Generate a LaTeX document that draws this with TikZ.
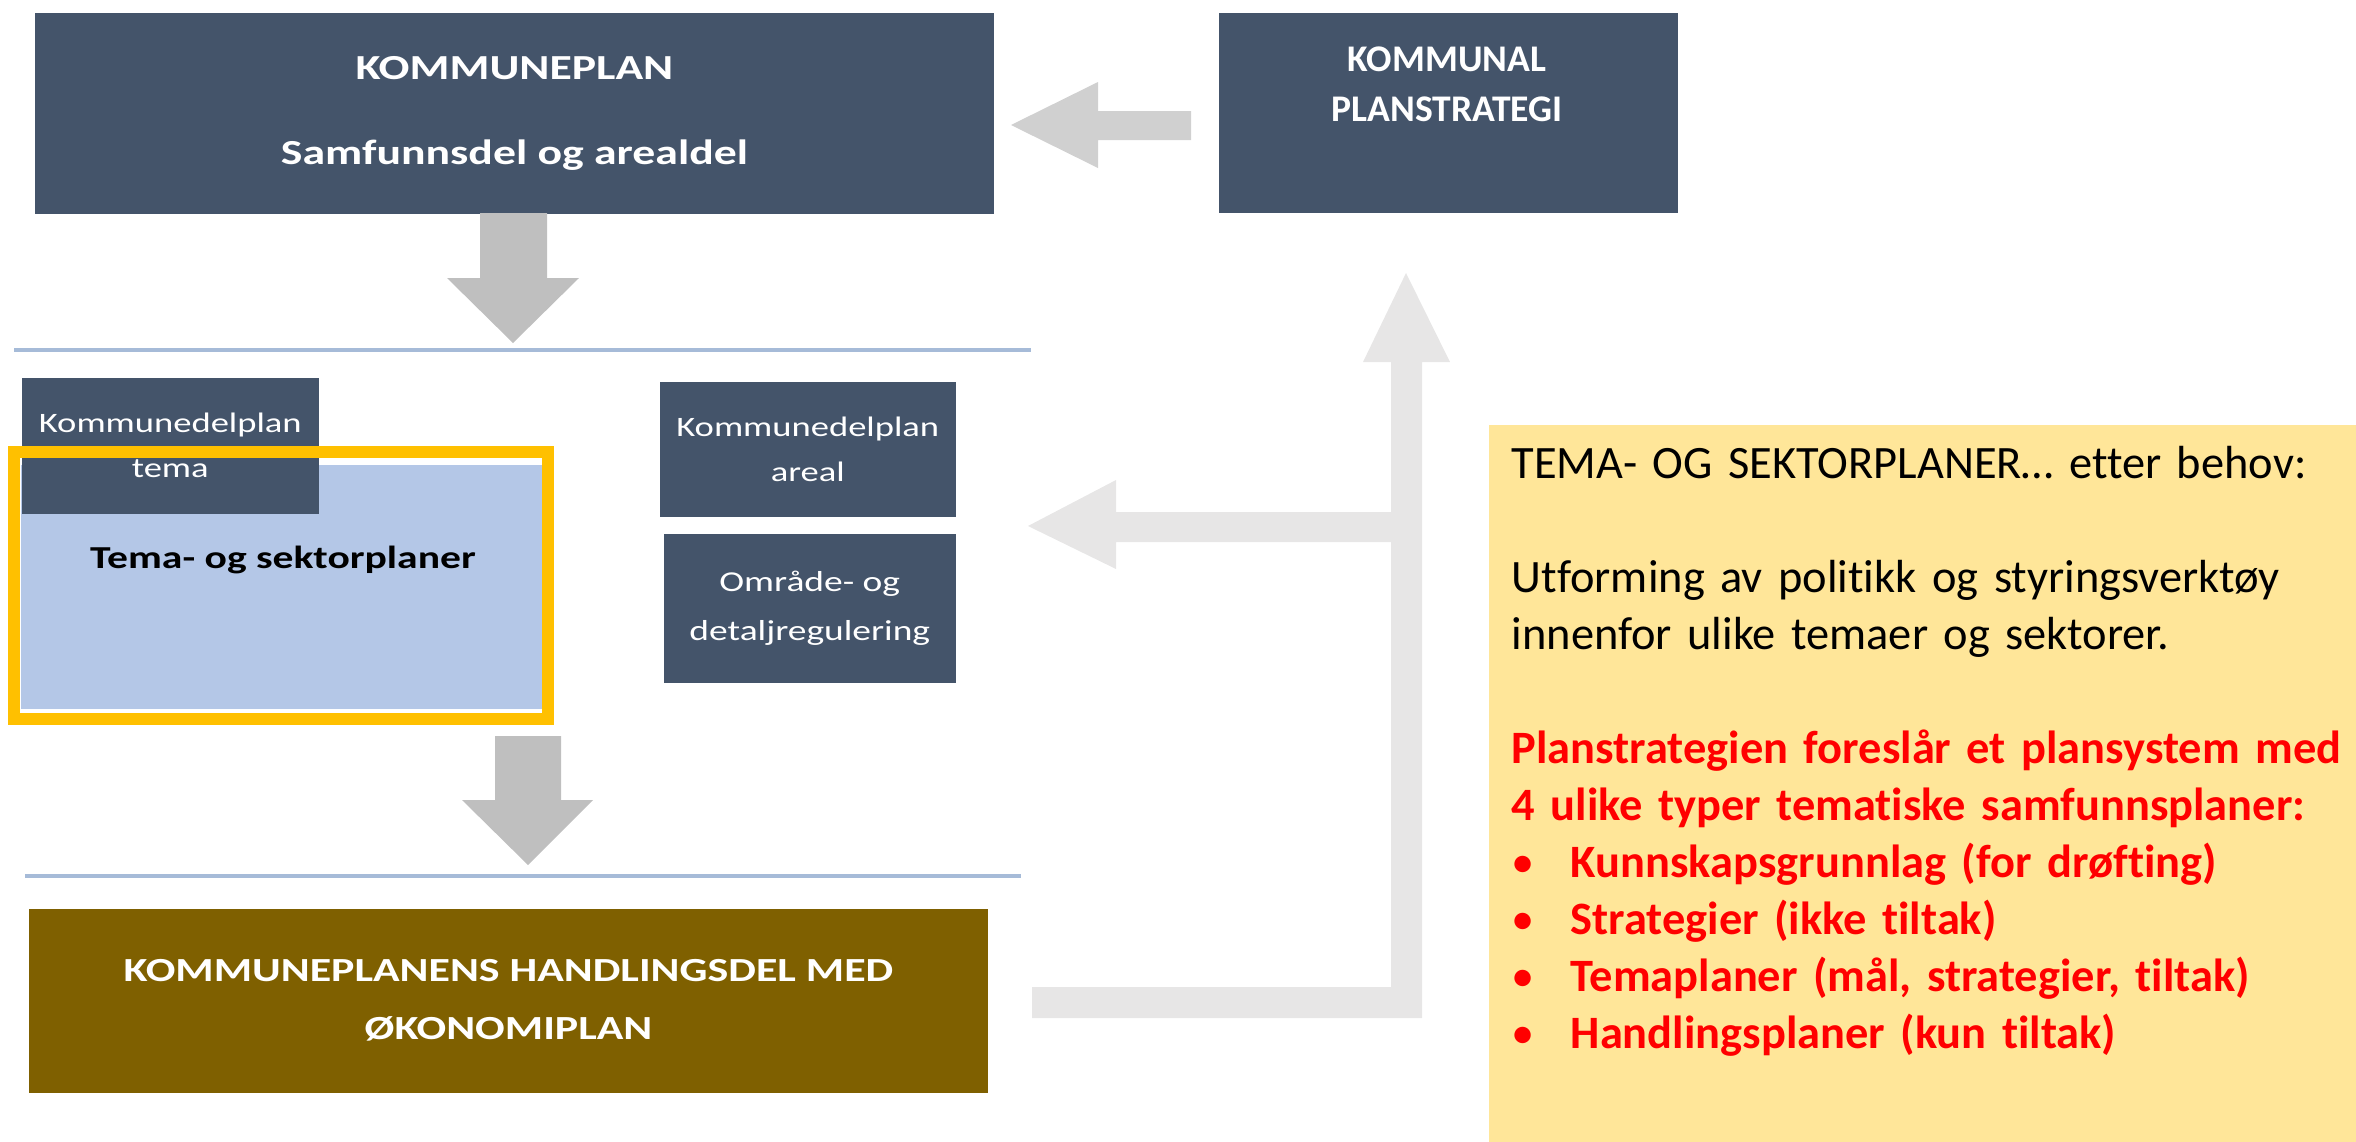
\documentclass[tikz,border=0pt]{standalone}
\usepackage{fontspec}
\setmainfont[Ligatures=NoCommon]{Carlito}
\newfontfamily\lysark[FakeStretch=1.3,Ligatures=NoCommon]{Carlito}
\definecolor{morkbla}{HTML}{44546A}
\definecolor{brun}{HTML}{7F6000}
\definecolor{lysbla}{HTML}{B4C7E7}
\definecolor{gulramme}{HTML}{FFC000}
\definecolor{gulbg}{HTML}{FFE699}
\definecolor{pilmork}{HTML}{BFBFBF}
\definecolor{pilmid}{HTML}{D0D0D0}
\definecolor{pillys}{HTML}{E7E6E6}
\definecolor{skillefarge}{HTML}{A6BBD8}
\begin{document}
\begin{tikzpicture}[x=0.01cm,y=-0.01cm,
    boks/.style={fill=morkbla,text=white,anchor=north west,inner sep=0pt,align=center},
    skille/.style={draw=skillefarge,line width=1pt}]
    \useasboundingbox (0,0) rectangle (2356,1142);
    % gul tekstboks til høyre
    \fill[gulbg] (1489,425) rectangle (2356,1142);
    \node[anchor=north west,inner sep=0pt,text width=9cm,align=left,
        font=\fontsize{13.2}{16.2}\selectfont] (info) at (1511,446) {%
        TEMA- OG SEKTORPLANER… etter behov:\\[16.2pt]
        Utforming av politikk og styringsverktøy\\
        innenfor ulike temaer og sektorer.\\[16.2pt]
        \textcolor{red}{\bfseries Planstrategien foreslår et plansystem med}\\
        \textcolor{red}{\bfseries 4 ulike typer tematiske samfunnsplaner:}\\
        \textcolor{red}{\makebox[0.59cm][l]{\textbullet}\bfseries Kunnskapsgrunnlag (for drøfting)}\\
        \textcolor{red}{\makebox[0.59cm][l]{\textbullet}\bfseries Strategier (ikke tiltak)}\\
        \textcolor{red}{\makebox[0.59cm][l]{\textbullet}\bfseries Temaplaner (mål, strategier, tiltak)}\\
        \textcolor{red}{\makebox[0.59cm][l]{\textbullet}\bfseries Handlingsplaner (kun tiltak)}};
    % tilbakekobling fra handlingsdel
    \fill[pillys] (1032,987) -- (1391,987) -- (1391,542) -- (1116,542) -- (1116,569)
        -- (1028,526) -- (1116,480) -- (1116,512) -- (1391,512) -- (1391,362)
        -- (1363,362) -- (1406,273) -- (1450,362) -- (1422,362) -- (1422,1018)
        -- (1032,1018) -- cycle;
    % skillelinjer
    \draw[skille] (14,350) -- (1031,350);
    \draw[skille] (25,876) -- (1021,876);
    % bokser
    \node[boks,minimum width=9.59cm,minimum height=2.01cm,
        font=\lysark\bfseries\fontsize{10}{12}\selectfont] (kplan) at (34,12)
        {KOMMUNEPLAN\\[12.2pt]Samfunnsdel og arealdel};
    \node[boks,minimum width=4.59cm,minimum height=2cm] (kstrat) at (1218,12) {};
    \node[text=white,align=center,inner sep=0pt,
        font=\bfseries\fontsize{10.7}{14.2}\selectfont] (kstrattekst) at (1447,84)
        {KOMMUNAL\\PLANSTRATEGI};
    \fill[lysbla] (21,465) rectangle (542,709);
    \node[boks,minimum width=2.97cm,minimum height=1.36cm,
        font=\lysark\fontsize{8}{12.8}\selectfont] (tema) at (21,377)
        {Kommunedelplan\\tema};
    \draw[gulramme,line width=0.12cm] (14,452) rectangle (548,719);
    \node[inner sep=0pt,font=\lysark\bfseries\fontsize{9.1}{11}\selectfont] (tsp) at (283,560)
        {Tema- og sektorplaner};
    \node[boks,minimum width=2.96cm,minimum height=1.35cm,
        font=\lysark\fontsize{8}{12.8}\selectfont] (areal) at (659,381)
        {Kommunedelplan\\areal};
    \node[boks,minimum width=2.92cm,minimum height=1.49cm,
        font=\lysark\fontsize{8.2}{13.7}\selectfont] (omr) at (663,533)
        {Område- og\\detaljregulering};
    \node[boks,fill=brun,minimum width=9.59cm,minimum height=1.84cm,
        font=\lysark\bfseries\fontsize{9.6}{16.5}\selectfont] (hdel) at (28,908)
        {KOMMUNEPLANENS HANDLINGSDEL MED\\ØKONOMIPLAN};
    % piler
    \fill[pilmid] (1191,111) -- (1098,111) -- (1098,82) -- (1011,125) -- (1098,168)
        -- (1098,140) -- (1191,140) -- cycle;
    \fill[pilmork] (480,213) -- (547,213) -- (547,278) -- (579,278) -- (513,343)
        -- (447,278) -- (480,278) -- cycle;
    \fill[pilmork] (495,736) -- (561,736) -- (561,800) -- (593,800) -- (528,865)
        -- (462,800) -- (495,800) -- cycle;
\end{tikzpicture}
\end{document}
